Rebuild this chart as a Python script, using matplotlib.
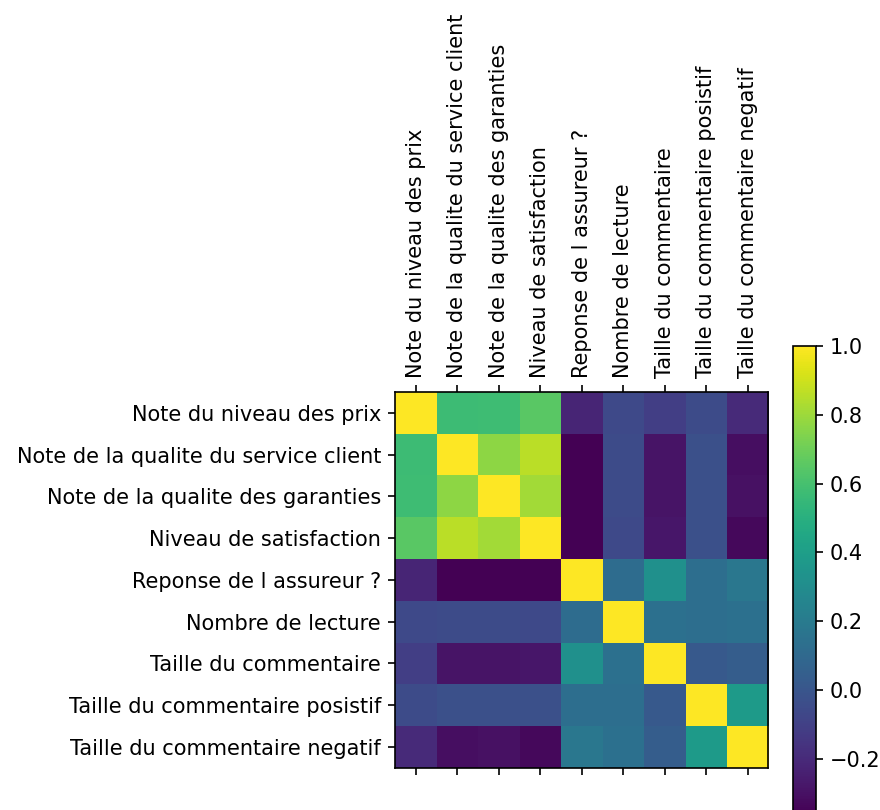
import matplotlib
matplotlib.use("Agg")
import matplotlib.pyplot as plt
import numpy as np

labels = [
    "Note du niveau des prix",
    "Note de la qualite du service client",
    "Note de la qualite des garanties",
    "Niveau de satisfaction",
    "Reponse de l assureur ?",
    "Nombre de lecture",
    "Taille du commentaire",
    "Taille du commentaire posistif",
    "Taille du commentaire negatif",
]

# correlation matrix (row by row)
row_prix = [1.00, 0.57, 0.58, 0.65, -0.22, -0.06, -0.11, -0.05, -0.20]
row_service = [0.57, 1.00, 0.77, 0.86, -0.36, -0.05, -0.29, -0.03, -0.31]
row_garanties = [0.58, 0.77, 1.00, 0.81, -0.36, -0.05, -0.29, -0.03, -0.30]
row_satisfaction = [0.65, 0.86, 0.81, 1.00, -0.36, -0.06, -0.28, -0.03, -0.33]
row_reponse = [-0.22, -0.36, -0.36, -0.36, 1.00, 0.12, 0.32, 0.13, 0.18]
row_lecture = [-0.06, -0.05, -0.05, -0.06, 0.12, 1.00, 0.14, 0.13, 0.14]
row_taille = [-0.11, -0.29, -0.29, -0.28, 0.32, 0.14, 1.00, 0.02, 0.04]
row_positif = [-0.05, -0.03, -0.03, -0.03, 0.13, 0.13, 0.02, 1.00, 0.38]
row_negatif = [-0.20, -0.31, -0.30, -0.33, 0.18, 0.14, 0.04, 0.38, 1.00]

corr = np.array([row_prix, row_service, row_garanties, row_satisfaction,
                 row_reponse, row_lecture, row_taille, row_positif, row_negatif])

plt.rcParams['font.size'] = 15

fig = plt.figure(figsize=(8.8, 8.1), dpi=100)
ax = fig.add_axes([0.449, 0.052, 0.424, 0.464])
im = ax.matshow(corr, cmap='viridis', aspect='auto')

ax.set_xticks(range(len(labels)))
ax.set_yticks(range(len(labels)))
ax.set_xticklabels(labels, rotation=90)
ax.set_yticklabels(labels)
ax.tick_params(length=5.25, width=1.2, pad=5)
for s in ax.spines.values():
    s.set_linewidth(1.2)

cax = fig.add_axes([0.901, -0.005, 0.026, 0.578])
cb = fig.colorbar(im, cax=cax)
cb.ax.tick_params(length=5.25, width=1.2, pad=5)
cb.outline.set_linewidth(1.2)

fig.savefig("out.png", dpi=100)
